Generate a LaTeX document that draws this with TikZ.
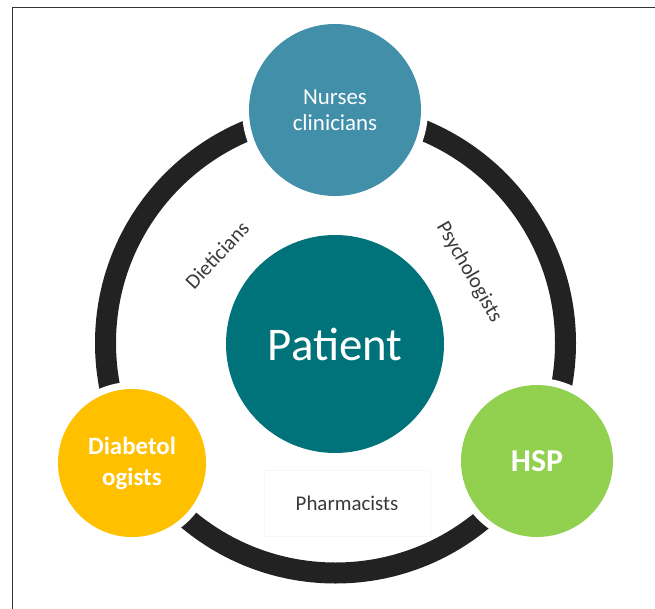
\documentclass[tikz,border=0pt]{standalone}
\usepackage{fontspec}
\setmainfont{Carlito}
\definecolor{nursecol}{HTML}{428FAA}
\definecolor{patcol}{HTML}{00737A}
\definecolor{diabcol}{HTML}{FFC000}
\definecolor{hspcol}{HTML}{92D050}
\definecolor{ringcol}{HTML}{222222}
\definecolor{labcol}{HTML}{3A3A3A}
\begin{document}
\begin{tikzpicture}[x=1bp,y=-1bp,
  role/.style={circle, inner sep=0pt, text=white, align=center,
    preaction={draw=white, line width=14bp}},
  lab/.style={text=labcol, font=\fontsize{21}{25}\selectfont, inner sep=0pt}
]
\useasboundingbox (0,0) rectangle (655,609);
\fill[white] (0,0) rectangle (655,609);
\draw[line width=1bp, black!80] (12,609) -- (12,8) -- (655,8);
\coordinate (hub) at (335.5,343);
\draw[ringcol, line width=21bp] (hub) circle[radius=230bp];
\node[role, fill=patcol, minimum size=218bp, font=\fontsize{47}{50}\selectfont] (patient) at (335,344) {Patient};
\node[role, fill=nursecol, minimum size=172bp, font=\fontsize{23}{26}\selectfont] (nurses) at (335,110) {Nurses\\clinicians};
\node[role, fill=diabcol, minimum size=148bp, font=\bfseries\fontsize{25}{31}\selectfont] (diab) at (132,463) {Diabetol\\ogists};
\node[role, fill=hspcol, minimum size=152bp, font=\bfseries\fontsize{32}{36}\selectfont] (hsp) at (537,461) {HSP};
\node[lab, rotate=47] (diet) at (217,255) {Dieticians};
\node[lab, rotate=-60] (psych) at (469,272) {Psychologists};
\node[lab, draw=black!3, line width=0.6bp, minimum width=166bp, minimum height=66bp] (pharm) at (347,503) {Pharmacists};
\end{tikzpicture}
\end{document}
